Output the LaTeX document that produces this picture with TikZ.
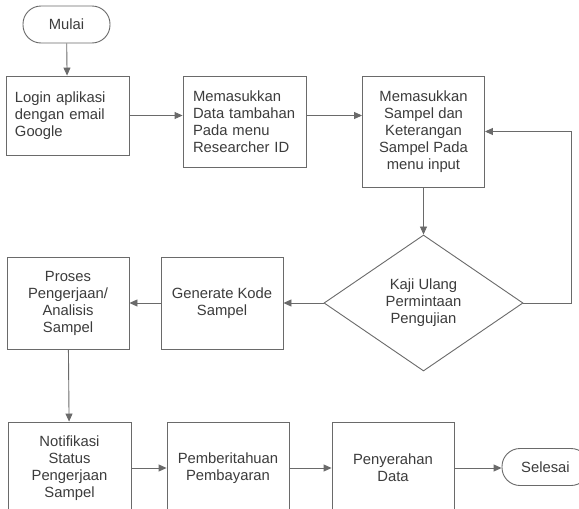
\documentclass[tikz,border=0pt]{standalone}
\usepackage{fontspec}
\setmainfont{Liberation Sans}
\usetikzlibrary{shapes.geometric,arrows.meta}
\definecolor{linec}{HTML}{6A6A6A}
\definecolor{textc}{HTML}{3C3C3C}
\tikzset{
  every node/.style={font=\fontsize{14.8pt}{17pt}\selectfont, text=textc},
  boxc/.style={draw=linec, line width=0.9pt, rectangle, align=center, inner sep=0pt},
  pill/.style={draw=linec, line width=0.9pt, rectangle, rounded corners=18pt, minimum width=87pt, minimum height=37pt, inner sep=0pt},
  decision/.style={draw=linec, line width=0.9pt, diamond, minimum width=199pt, minimum height=136pt, inner sep=0pt, align=center},
  flow/.style={draw=linec, line width=0.9pt, -{Triangle[length=8pt,width=7pt]}},
}
\begin{document}
\begin{tikzpicture}[x=1pt,y=-1pt]
\useasboundingbox (0,0) rectangle (579,509);
\clip (0,0) rectangle (579,509);
\fill[white] (0,0) rectangle (579,509);

\node[pill] (mulai) at (66.5,24.5) {Mulai};
\node[boxc, minimum width=123pt, minimum height=79pt, text width=105pt, align=left] (login) at (67.5,115.5) {Login aplikasi\\dengan email\\Google};
\node[boxc, minimum width=123pt, minimum height=91pt, text width=103pt, align=left] (data) at (244.5,121.5) {Memasukkan\\Data tambahan\\Pada menu\\Researcher ID};
\node[boxc, minimum width=122pt, minimum height=111pt] (sampel) at (423.5,131.5) {Memasukkan\\Sampel dan\\Keterangan\\Sampel Pada\\menu input};
\node[decision] (kaji) at (423.5,303) {Kaji Ulang\\Permintaan\\Pengujian};
\node[boxc, minimum width=122pt, minimum height=92pt] (gen) at (222,303) {Generate Kode\\Sampel};
\node[boxc, minimum width=122pt, minimum height=92pt] (proses) at (68,303) {Proses\\Pengerjaan/\\Analisis\\Sampel};
\node[boxc, minimum width=123pt, minimum height=92pt] (notif) at (69.5,468) {Notifikasi\\Status\\Pengerjaan\\Sampel};
\node[boxc, minimum width=122pt, minimum height=92pt] (bayar) at (228,468) {Pemberitahuan\\Pembayaran};
\node[boxc, minimum width=122pt, minimum height=92pt] (serah) at (393,468) {Penyerahan\\Data};
\node[pill] (selesai) at (545.5,467) {Selesai};

\draw[flow] (mulai) -- (login);
\draw[flow] (login.east) -- (login.east -| data.west);
\draw[flow] (data.east |- login.east) -- (login.east -| sampel.west);
\draw[flow] (sampel) -- (kaji);
\draw[flow] (kaji.east) -- ++(48,0) |- (sampel.east);
\draw[flow] (kaji) -- (gen);
\draw[flow] (gen) -- (proses);
\draw[flow] (proses) -- (notif);
\draw[flow] (notif) -- (bayar);
\draw[flow] (bayar) -- (serah);
\draw[flow] (serah.east) -- (serah.east -| selesai.west);
\end{tikzpicture}
\end{document}
